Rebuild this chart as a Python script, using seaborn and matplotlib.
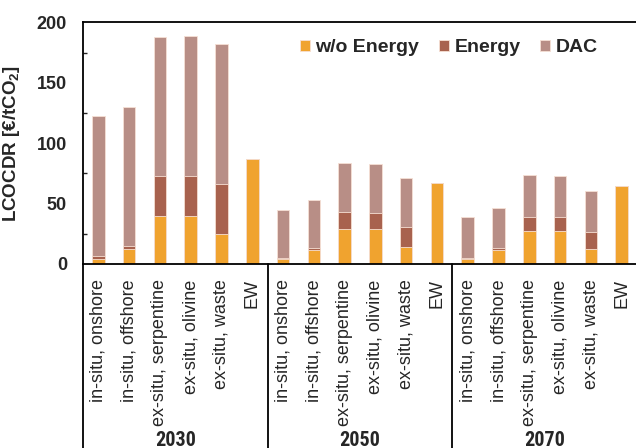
import matplotlib
matplotlib.use('Agg')

import numpy as np
import pandas as pd
import matplotlib.pyplot as plt
import matplotlib.font_manager as fm
from matplotlib.ticker import MultipleLocator
import seaborn as sns

# --- data ---
years = ['2030', '2050', '2070']
routes = ['in-situ, onshore', 'in-situ, offshore', 'ex-situ, serpentine',
          'ex-situ, olivine', 'ex-situ, waste', 'EW']

wo_energy_2030 = [4.4, 12.1, 40.0, 40.0, 25.0, 87.2]
energy_2030 = [2.2, 2.8, 32.6, 33.0, 41.5, 0.0]
dac_2030 = [115.6, 115.3, 115.4, 115.7, 115.8, 0.0]

wo_energy_2050 = [3.9, 11.6, 29.0, 29.0, 14.0, 67.0]
energy_2050 = [1.1, 1.4, 14.0, 13.2, 16.6, 0.0]
dac_2050 = [40.0, 39.7, 40.3, 40.3, 40.3, 0.0]

wo_energy_2070 = [3.9, 11.6, 27.3, 27.3, 12.4, 64.8]
energy_2070 = [1.3, 1.6, 11.7, 11.3, 14.1, 0.0]
dac_2070 = [33.4, 32.8, 34.6, 33.9, 33.6, 0.0]

wo_energy = wo_energy_2030 + wo_energy_2050 + wo_energy_2070
energy = energy_2030 + energy_2050 + energy_2070
dac = dac_2030 + dac_2050 + dac_2070

df = pd.DataFrame({
    'year': np.repeat(years, len(routes)),
    'route': routes * len(years),
    'wo': wo_energy, 'energy': energy, 'dac': dac,
})
df['key'] = df['year'] + '|' + df['route']
df['lvl1'] = df['wo']
df['lvl2'] = df['wo'] + df['energy']
df['lvl3'] = df['lvl2'] + df['dac']

# --- style ---
sns.set_style('ticks')
plt.rcParams['font.family'] = ['Liberation Sans', 'DejaVu Sans']
plt.rcParams['mathtext.fontset'] = 'custom'
plt.rcParams['mathtext.rm'] = 'Liberation Sans'
plt.rcParams['mathtext.bf'] = 'Liberation Sans:bold'

# look for a narrow bold face for the year labels
group_font, group_size = 'Liberation Sans', 13
names = {f.name for f in fm.fontManager.ttflist}
for cand in ['Liberation Sans Narrow', 'Arial Narrow', 'Roboto Condensed', 'Open Sans Condensed']:
    if cand in names:
        group_font, group_size = cand, 14.5
        break
else:
    for f in fm.fontManager.ttflist:
        if f.stretch in ('condensed', 'semi-condensed') and f.weight in ('bold', 700):
            group_font, group_size = f.name, 14.5
            break

c_wo = '#F0A32F'
c_en = '#A8624E'
c_dac = '#B88E86'
edge = '#F6E0D4'

fig = plt.figure(figsize=(6.36, 4.48), dpi=100)
ax = fig.add_axes([83 / 636, (448 - 264) / 448, 554 / 636, (264 - 22.3) / 448])

order = list(df['key'])
for col, colr, lab in [('lvl3', c_dac, 'DAC'), ('lvl2', c_en, 'Energy'), ('lvl1', c_wo, 'w/o Energy')]:
    sns.barplot(data=df, x='key', y=col, order=order, color=colr, width=0.41,
                edgecolor=edge, linewidth=0.6, saturation=1, ax=ax, label=lab)

ax.set_xlim(-0.5, len(order) - 0.5)
ax.set_ylim(0, 200)
ax.yaxis.set_major_locator(MultipleLocator(50))
ax.yaxis.set_minor_locator(MultipleLocator(25))
ax.tick_params(axis='y', which='major', length=0, pad=11.5, labelsize=13)
ax.tick_params(axis='y', which='minor', direction='in', length=3, width=1)
for t in ax.get_yticklabels():
    t.set_fontweight('bold')
ax.set_xticks(range(len(order)))
ax.set_xticklabels(df['route'], rotation=90, fontsize=13)
ax.tick_params(axis='x', length=0, pad=11)
ax.set_xlabel('')
ax.set_ylabel('LCOCDR [€/tCO$_\\mathbf{2}$]', fontsize=13.5, fontweight='bold')
ax.yaxis.set_label_coords(-0.11, 0.5)

for s in ax.spines.values():
    s.set_linewidth(1.3)
    s.set_color('black')

# group separators and year labels below the axis
trans = ax.get_xaxis_transform()
for i in range(len(years) + 1):
    xpos = i * len(routes) - 0.5
    ax.plot([xpos, xpos], [0, -0.8], color='black', lw=1.3, transform=trans, clip_on=False)
for i, yr in enumerate(years):
    xc = i * len(routes) + (len(routes) - 1) / 2
    ax.text(xc, (264 - 445.5) / 241.7, yr, transform=trans, ha='center', va='baseline',
            fontsize=group_size, fontweight='bold', family=group_font)

# legend
h, l = ax.get_legend_handles_labels()
want = ['w/o Energy', 'Energy', 'DAC']
hh = [h[l.index(w)] for w in want]
fig.legend(hh, want, ncol=3, frameon=False, loc='center left',
           bbox_to_anchor=(300 / 636, 1 - 48 / 448), borderpad=0, borderaxespad=0,
           handlelength=0.5, handleheight=0.5, handletextpad=0.3, columnspacing=1.0,
           prop={'weight': 'bold', 'size': 14})
if ax.get_legend() is not None:
    ax.get_legend().remove()

fig.savefig('out.png', dpi=100)
